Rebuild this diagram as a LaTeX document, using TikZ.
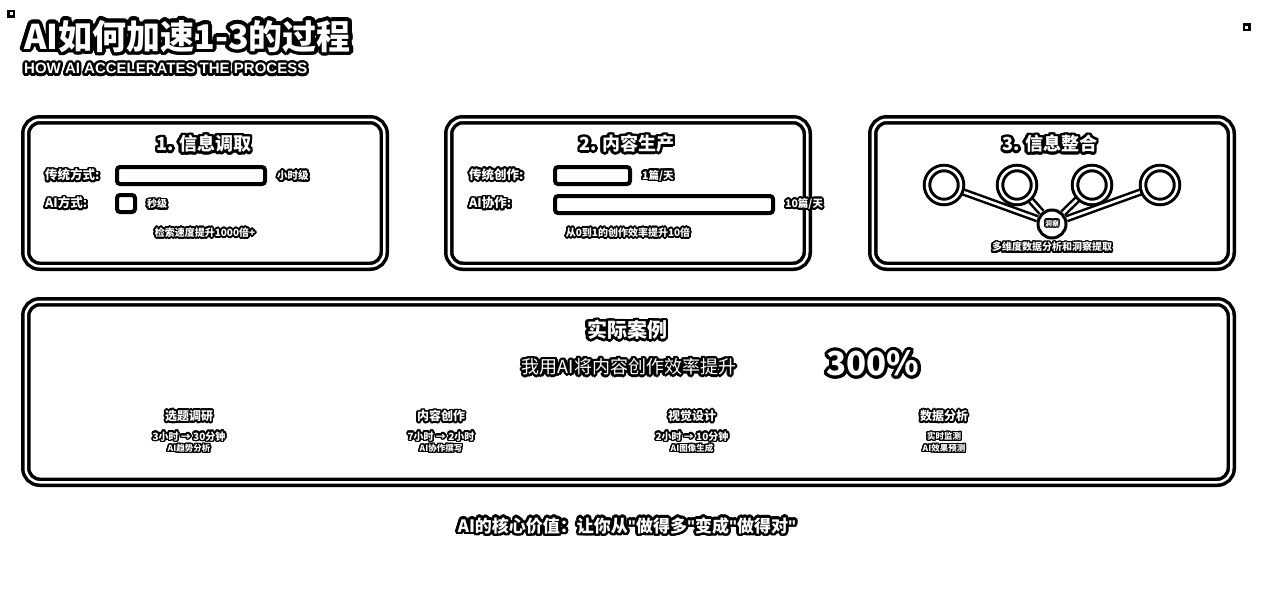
\documentclass[tikz,border=0pt]{standalone}
\usepackage{fontspec}
\setmainfont{Noto Sans CJK SC}
\newfontfamily\latinfont{Liberation Sans}
\usepackage[copies]{contour}
\contournumber{24}
\usetikzlibrary{backgrounds}
\newcommand{\halo}[2][1.6pt]{\contourlength{#1}\contour{black}{#2}}
\newcommand{\fsz}[1]{\fontsize{#1}{#1}\selectfont}
\newcommand{\dq}{{\latinfont\bfseries\symbol{34}}}
\tikzset{
  card/.style={draw=black, line width=3.5pt, double=white, double distance=2.5pt, rounded corners=14pt, inner sep=0},
  bar/.style={draw=black, line width=4pt, fill=white, rounded corners=3pt, inner sep=0},
  ring/.style={circle, draw=black, line width=3pt, double=white, double distance=2.5pt, fill=white, minimum size=34pt, inner sep=0},
  hub/.style={circle, draw=black, line width=3pt, fill=white, minimum size=28pt, inner sep=0},
  link/.style={draw=black, line width=2.5pt, double=white, double distance=2.5pt},
  marker/.style={draw=black, line width=2.5pt, fill=white, minimum size=5.5pt, inner sep=0},
  lbl/.style={text=white, inner sep=0},
}
\begin{document}
\begin{tikzpicture}[x=1pt,y=-1pt]
\useasboundingbox (0,0) rectangle (1280,600);
\begin{pgfonlayer}{background}
\fill[white] (0,0) rectangle (1280,600);
\end{pgfonlayer}

% corner markers
\node[marker] (m1) at (11,13.5) {};
\node[marker] (m2) at (1246.5,27) {};

% header
\node[lbl, anchor=west, font=\fsz{34}\bfseries] (title) at (24,38) {\halo[3.5pt]{AI如何加速1-3的过程}};
\node[lbl, anchor=west, font=\latinfont\fsz{15}\bfseries] (sub) at (24,70) {\halo[2.4pt]{HOW AI ACCELERATES THE PROCESS}};

% cards
\node[card, minimum width=358.5pt, minimum height=146.5pt] (c1) at (205,193) {};
\node[card, minimum width=358.5pt, minimum height=146.5pt] (c2) at (628,193) {};
\node[card, minimum width=358.5pt, minimum height=146.5pt] (c3) at (1052,193) {};
\node[card, minimum width=1205.5pt, minimum height=180.5pt] (c4) at (628.5,392) {};

% card 1
\node[lbl, font=\fsz{18}\bfseries] (h1) at (204,145) {\halo[2.5pt]{1. 信息调取}};
\node[lbl, anchor=west, font=\fsz{12.5}\bfseries] (a1) at (45,176) {\halo[1.8pt]{传统方式:}};
\node[bar, minimum width=148pt, minimum height=17pt] (b1) at (191,175.5) {};
\node[lbl, anchor=west, font=\fsz{10.5}\bfseries] (a1r) at (277,176.5) {\halo[1.8pt]{小时级}};
\node[lbl, anchor=west, font=\fsz{12.5}\bfseries] (a2) at (45,204) {\halo[1.8pt]{AI方式:}};
\node[bar, minimum width=18pt, minimum height=17pt] (b2) at (126,203.5) {};
\node[lbl, anchor=west, font=\fsz{10}\bfseries] (a2r) at (147,205) {\halo[1.8pt]{秒级}};
\node[lbl, font=\fsz{10}\bfseries] (n1) at (205,233.5) {\halo[1.7pt]{检索速度提升1000倍+}};

% card 2
\node[lbl, font=\fsz{18}\bfseries] (h2) at (627,145) {\halo[2.5pt]{2. 内容生产}};
\node[lbl, anchor=west, font=\fsz{12.5}\bfseries] (d1) at (469,175.5) {\halo[1.8pt]{传统创作:}};
\node[bar, minimum width=75pt, minimum height=17pt] (b3) at (592.5,175.5) {};
\node[lbl, anchor=west, font=\fsz{10.5}\bfseries] (d1r) at (642,176.5) {\halo[1.8pt]{1篇/天}};
\node[lbl, anchor=west, font=\fsz{12.5}\bfseries] (d2) at (469,204) {\halo[1.8pt]{AI协作:}};
\node[bar, minimum width=218pt, minimum height=17pt] (b4) at (664,204.5) {};
\node[lbl, anchor=west, font=\fsz{10.5}\bfseries] (d2r) at (785,205) {\halo[1.8pt]{10篇/天}};
\node[lbl, font=\fsz{10}\bfseries] (n2) at (628,233.5) {\halo[1.7pt]{从0到1的创作效率提升10倍}};

% card 3
\node[lbl, font=\fsz{18}\bfseries] (h3) at (1050,145) {\halo[2.5pt]{3. 信息整合}};
\node[ring] (r1) at (944,185) {};
\node[ring] (r2) at (1017,185) {};
\node[ring] (r3) at (1092,185) {};
\node[ring] (r4) at (1160,185) {};
\node[hub] (hb) at (1052,224) {};
\node[lbl, font=\fsz{7}\bfseries] (hbt) at (hb) {\halo[1.2pt]{洞察}};
\begin{pgfonlayer}{background}
\draw[link] (r1) -- (hb);
\draw[link] (r2) -- (hb);
\draw[link] (r3) -- (hb);
\draw[link] (r4) -- (hb);
\end{pgfonlayer}
\node[lbl, font=\fsz{10}\bfseries] (n3) at (1052,248) {\halo[1.7pt]{多维度数据分析和洞察提取}};

% card 4
\node[lbl, font=\fsz{20}\bfseries] (h4) at (627,331) {\halo[2.5pt]{实际案例}};
\node[lbl, font=\fsz{18}] (q1) at (629,368) {\halo[2.3pt]{我用AI将内容创作效率提升}};
\node[lbl, font=\fsz{33}\bfseries] (q2) at (873,365) {\halo[3pt]{300\%}};

\node[lbl, font=\fsz{12}\bfseries] (s1) at (189,417) {\halo[1.7pt]{选题调研}};
\node[lbl, font=\fsz{10}\bfseries] (s1a) at (189,437) {\halo[1.5pt]{3小时 → 30分钟}};
\node[lbl, font=\fsz{8.5}\bfseries] (s1b) at (189,449) {\halo[1.4pt]{AI趋势分析}};

\node[lbl, font=\fsz{12}\bfseries] (s2) at (441,417) {\halo[1.7pt]{内容创作}};
\node[lbl, font=\fsz{10}\bfseries] (s2a) at (441,437) {\halo[1.5pt]{7小时 → 2小时}};
\node[lbl, font=\fsz{8.5}\bfseries] (s2b) at (441,449) {\halo[1.4pt]{AI协作撰写}};

\node[lbl, font=\fsz{12}\bfseries] (s3) at (692,417) {\halo[1.7pt]{视觉设计}};
\node[lbl, font=\fsz{10}\bfseries] (s3a) at (692,437) {\halo[1.5pt]{2小时 → 10分钟}};
\node[lbl, font=\fsz{8.5}\bfseries] (s3b) at (692,449) {\halo[1.4pt]{AI图像生成}};

\node[lbl, font=\fsz{12}\bfseries] (s4) at (944,417) {\halo[1.7pt]{数据分析}};
\node[lbl, font=\fsz{8.5}\bfseries] (s4a) at (944,437) {\halo[1.4pt]{实时监测}};
\node[lbl, font=\fsz{8.5}\bfseries] (s4b) at (944,449) {\halo[1.4pt]{AI效果预测}};

% footer
\node[lbl, font=\fsz{17}\bfseries] (foot) at (627,527) {\halo[2.5pt]{AI的核心价值：让你从\dq 做得多\dq 变成\dq 做得对\dq}};
\end{tikzpicture}
\end{document}
